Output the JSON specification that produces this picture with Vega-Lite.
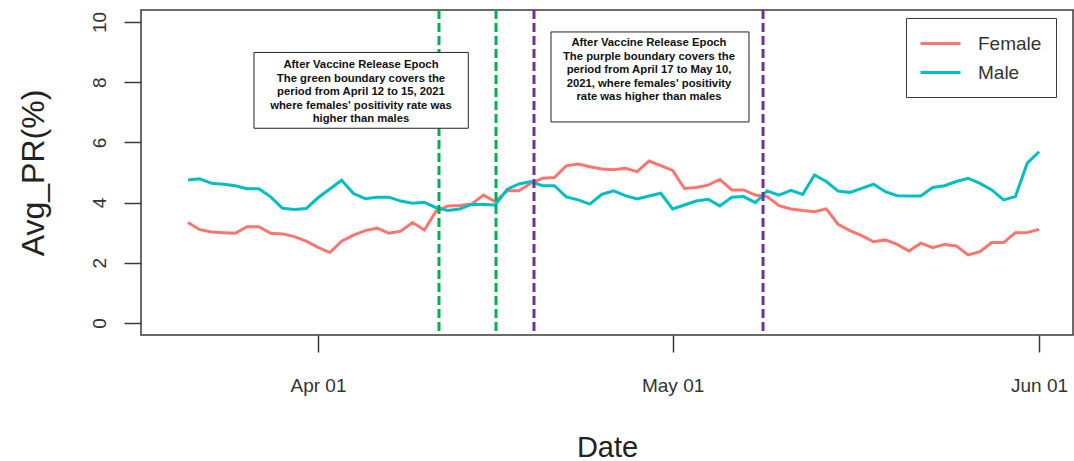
{
  "$schema": "https://vega.github.io/schema/vega-lite/v6.json",
  "width": 932,
  "height": 325,
  "autosize": {"type": "none"},
  "padding": {"left": 141, "top": 10, "right": 1, "bottom": 126},
  "background": "white",
  "config": {
    "view": {"stroke": "#3a3a3a", "strokeWidth": 1.5},
    "font": "Liberation Sans",
    "axis": {
      "grid": false, "domain": false,
      "tickColor": "#3a3a3a", "tickWidth": 1.5, "tickSize": 17,
      "labelColor": "#333333", "titleColor": "#222222",
      "labelFont": "Liberation Sans", "titleFont": "Liberation Sans",
      "titleFontWeight": "normal"
    }
  },
  "datasets": {
    "pr": [
      {"date": "2021-03-21", "Female": 3.34, "Male": 4.75},
      {"date": "2021-03-22", "Female": 3.10, "Male": 4.79},
      {"date": "2021-03-23", "Female": 3.02, "Male": 4.64},
      {"date": "2021-03-24", "Female": 3.00, "Male": 4.61},
      {"date": "2021-03-25", "Female": 2.98, "Male": 4.56},
      {"date": "2021-03-26", "Female": 3.20, "Male": 4.46},
      {"date": "2021-03-27", "Female": 3.20, "Male": 4.46},
      {"date": "2021-03-28", "Female": 2.98, "Male": 4.19},
      {"date": "2021-03-29", "Female": 2.96, "Male": 3.81},
      {"date": "2021-03-30", "Female": 2.87, "Male": 3.77},
      {"date": "2021-03-31", "Female": 2.72, "Male": 3.80},
      {"date": "2021-04-01", "Female": 2.51, "Male": 4.16},
      {"date": "2021-04-02", "Female": 2.34, "Male": 4.45},
      {"date": "2021-04-03", "Female": 2.72, "Male": 4.74},
      {"date": "2021-04-04", "Female": 2.92, "Male": 4.30},
      {"date": "2021-04-05", "Female": 3.07, "Male": 4.13},
      {"date": "2021-04-06", "Female": 3.15, "Male": 4.18},
      {"date": "2021-04-07", "Female": 2.98, "Male": 4.18},
      {"date": "2021-04-08", "Female": 3.05, "Male": 4.05},
      {"date": "2021-04-09", "Female": 3.34, "Male": 3.98},
      {"date": "2021-04-10", "Female": 3.09, "Male": 4.01},
      {"date": "2021-04-11", "Female": 3.72, "Male": 3.83},
      {"date": "2021-04-12", "Female": 3.89, "Male": 3.74},
      {"date": "2021-04-13", "Female": 3.90, "Male": 3.79},
      {"date": "2021-04-14", "Female": 3.95, "Male": 3.94},
      {"date": "2021-04-15", "Female": 4.25, "Male": 3.94},
      {"date": "2021-04-16", "Female": 4.03, "Male": 3.92},
      {"date": "2021-04-17", "Female": 4.39, "Male": 4.44},
      {"date": "2021-04-18", "Female": 4.39, "Male": 4.62},
      {"date": "2021-04-19", "Female": 4.64, "Male": 4.70},
      {"date": "2021-04-20", "Female": 4.81, "Male": 4.56},
      {"date": "2021-04-21", "Female": 4.83, "Male": 4.56},
      {"date": "2021-04-22", "Female": 5.22, "Male": 4.19},
      {"date": "2021-04-23", "Female": 5.28, "Male": 4.09},
      {"date": "2021-04-24", "Female": 5.19, "Male": 3.95},
      {"date": "2021-04-25", "Female": 5.12, "Male": 4.27},
      {"date": "2021-04-26", "Female": 5.09, "Male": 4.39},
      {"date": "2021-04-27", "Female": 5.14, "Male": 4.23},
      {"date": "2021-04-28", "Female": 5.03, "Male": 4.12},
      {"date": "2021-04-29", "Female": 5.38, "Male": 4.22},
      {"date": "2021-04-30", "Female": 5.23, "Male": 4.31},
      {"date": "2021-05-01", "Female": 5.07, "Male": 3.79},
      {"date": "2021-05-02", "Female": 4.47, "Male": 3.92},
      {"date": "2021-05-03", "Female": 4.50, "Male": 4.05},
      {"date": "2021-05-04", "Female": 4.58, "Male": 4.11},
      {"date": "2021-05-05", "Female": 4.77, "Male": 3.89},
      {"date": "2021-05-06", "Female": 4.42, "Male": 4.18},
      {"date": "2021-05-07", "Female": 4.42, "Male": 4.20},
      {"date": "2021-05-08", "Female": 4.25, "Male": 4.00},
      {"date": "2021-05-09", "Female": 4.20, "Male": 4.39},
      {"date": "2021-05-10", "Female": 3.90, "Male": 4.25},
      {"date": "2021-05-11", "Female": 3.79, "Male": 4.41},
      {"date": "2021-05-12", "Female": 3.74, "Male": 4.27},
      {"date": "2021-05-13", "Female": 3.70, "Male": 4.92},
      {"date": "2021-05-14", "Female": 3.79, "Male": 4.70},
      {"date": "2021-05-15", "Female": 3.28, "Male": 4.38},
      {"date": "2021-05-16", "Female": 3.07, "Male": 4.34},
      {"date": "2021-05-17", "Female": 2.90, "Male": 4.47},
      {"date": "2021-05-18", "Female": 2.70, "Male": 4.61},
      {"date": "2021-05-19", "Female": 2.76, "Male": 4.36},
      {"date": "2021-05-20", "Female": 2.61, "Male": 4.23},
      {"date": "2021-05-21", "Female": 2.39, "Male": 4.22},
      {"date": "2021-05-22", "Female": 2.65, "Male": 4.22},
      {"date": "2021-05-23", "Female": 2.50, "Male": 4.50},
      {"date": "2021-05-24", "Female": 2.61, "Male": 4.56},
      {"date": "2021-05-25", "Female": 2.56, "Male": 4.70},
      {"date": "2021-05-26", "Female": 2.26, "Male": 4.81},
      {"date": "2021-05-27", "Female": 2.37, "Male": 4.64},
      {"date": "2021-05-28", "Female": 2.67, "Male": 4.42},
      {"date": "2021-05-29", "Female": 2.67, "Male": 4.09},
      {"date": "2021-05-30", "Female": 3.00, "Male": 4.20},
      {"date": "2021-05-31", "Female": 3.01, "Male": 5.31},
      {"date": "2021-06-01", "Female": 3.11, "Male": 5.69}
    ],
    "bounds": [
      {"date": "2021-04-11T05:41:00Z", "boundary": "green"},
      {"date": "2021-04-16T01:26:00Z", "boundary": "green"},
      {"date": "2021-04-19T06:34:00Z", "boundary": "purple"},
      {"date": "2021-05-08T15:36:00Z", "boundary": "purple"}
    ],
    "notes": [
      {"start": "2021-03-26T14:02:00Z", "end": "2021-04-13T17:11:00Z", "top": 8.99, "bottom": 6.47,
       "center": "2021-04-04T15:19:00Z", "first": 8.46,
       "label": "After Vaccine Release Epoch\nThe green boundary covers the\nperiod from April 12 to 15, 2021\nwhere females' positivity rate was\nhigher than males"},
      {"start": "2021-04-20T17:05:00Z", "end": "2021-05-07T11:02:00Z", "top": 9.67, "bottom": 6.68,
       "center": "2021-04-29T00:00:00Z", "first": 9.19,
       "label": "After Vaccine Release Epoch\nThe purple boundary covers the\nperiod from April 17 to May 10,\n2021, where females' positivity\nrate was higher than males"}
    ]
  },
  "layer": [
    {
      "data": {"name": "pr"},
      "transform": [{"fold": ["Female", "Male"], "as": ["sex", "pr"]}],
      "mark": {"type": "line", "strokeWidth": 3},
      "encoding": {
        "x": {
          "field": "date", "type": "temporal",
          "scale": {"type": "utc", "domain": [
            {"year": 2021, "month": 3, "date": 17, "hours": 0, "minutes": 40, "utc": true},
            {"year": 2021, "month": 6, "date": 3, "hours": 20, "minutes": 54, "utc": true}
          ]},
          "axis": {
            "title": "Date",
            "values": [
              {"year": 2021, "month": 4, "date": 1, "utc": true},
              {"year": 2021, "month": 5, "date": 1, "utc": true},
              {"year": 2021, "month": 6, "date": 1, "utc": true}
            ],
            "labelExpr": "utcFormat(datum.value, '%b %d')",
            "labelFontSize": 19, "labelPadding": 24,
            "titleFontSize": 29, "titlePadding": 38
          }
        },
        "y": {
          "field": "pr", "type": "quantitative",
          "scale": {"domain": [-0.4, 10.4], "nice": false, "zero": false},
          "axis": {
            "title": "Avg_PR(%)",
            "values": [0, 2, 4, 6, 8, 10],
            "labelAngle": -90, "labelAlign": "center", "labelBaseline": "bottom",
            "labelFontSize": 19, "labelPadding": 15,
            "titleFontSize": 32, "titlePadding": 40
          }
        },
        "color": {
          "field": "sex", "type": "nominal",
          "scale": {"domain": ["Female", "Male"], "range": ["#F8766D", "#00BFC4"]},
          "legend": {
            "title": null, "orient": "none", "legendX": 765, "legendY": 8,
            "strokeColor": "#3a3a3a", "fillColor": "white",
            "padding": 14, "symbolType": "M-1.1,0H2.9", "symbolSize": 400,
            "symbolStrokeWidth": 3, "symbolFillColor": "transparent",
            "labelFontSize": 19, "labelColor": "#333333",
            "labelOffset": 35, "rowPadding": 7
          }
        }
      }
    },
    {
      "data": {"name": "bounds"},
      "transform": [{"filter": "datum.boundary === 'green'"}],
      "mark": {"type": "rule", "color": "#00B050", "strokeWidth": 3, "strokeDash": [9, 4]},
      "encoding": {"x": {"field": "date", "type": "temporal"}}
    },
    {
      "data": {"name": "bounds"},
      "transform": [{"filter": "datum.boundary === 'purple'"}],
      "mark": {"type": "rule", "color": "#7030A0", "strokeWidth": 3, "strokeDash": [9, 4]},
      "encoding": {"x": {"field": "date", "type": "temporal"}}
    },
    {
      "data": {"name": "notes"},
      "mark": {"type": "rect", "fill": "white", "stroke": "#222222", "strokeWidth": 1},
      "encoding": {
        "x": {"field": "start", "type": "temporal"},
        "x2": {"field": "end"},
        "y": {"field": "top", "type": "quantitative"},
        "y2": {"field": "bottom"}
      }
    },
    {
      "data": {"name": "notes"},
      "mark": {"type": "text", "font": "Liberation Sans", "fontWeight": "bold", "fontSize": 11.3,
               "lineHeight": 13.4, "lineBreak": "\n", "align": "center", "baseline": "alphabetic", "color": "#111111"},
      "encoding": {
        "x": {"field": "center", "type": "temporal"},
        "y": {"field": "first", "type": "quantitative"},
        "text": {"field": "label"}
      }
    }
  ]
}
